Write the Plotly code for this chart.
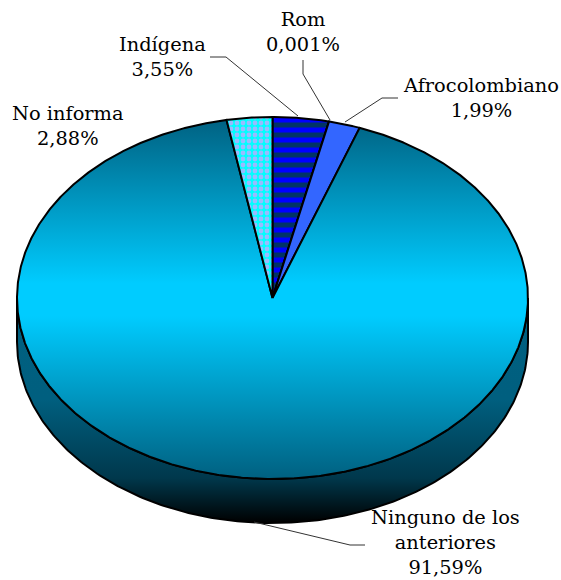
import numpy as np
import plotly.graph_objects as go

categories = ["Indígena", "Rom", "Afrocolombiano", "Ninguno de los anteriores", "No informa"]
values = [3.55, 0.001, 1.99, 91.59, 2.88]
value_labels = ["3,55%", "0,001%", "1,99%", "91,59%", "2,88%"]

# layout constants (pixels of the 561x580 frame)
CX, CY, RX, RY, DEPTH = 272.5, 298.0, 255.5, 181.0, 44.0
W, H = 561, 580
OUT = "#000000"


def rim(a0, a1, n=240, dy=0.0):
    t = np.radians(np.linspace(a0, a1, n))
    return CX + RX * np.sin(t), CY + dy - RY * np.cos(t)


fig = go.Figure()

# side wall: front half of the rim, extruded downward
xa, ya = rim(90, 270)
xb, yb = rim(270, 90, dy=DEPTH)
fig.add_trace(go.Scatter(
    x=np.r_[xa, xb, xa[0]], y=np.r_[ya, yb, ya[0]], mode="lines", fill="toself",
    line=dict(color=OUT, width=2),
    fillgradient=dict(type="vertical", start=CY, stop=CY + RY + DEPTH,
                      colorscale=[[0, "#006080"], [0.45, "#005F7F"], [0.8, "#00384C"], [1, "#000000"]]),
    hoverinfo="skip", showlegend=False))

styles = {
    "Indígena": dict(fillcolor="#0000FF", fillpattern=dict(shape="-", fgcolor="#003366", bgcolor="#0000FF", size=10, solidity=0.5, fillmode="replace")),
    "Rom": dict(fillcolor="#000080"),
    "Afrocolombiano": dict(fillcolor="#3366FF"),
    "Ninguno de los anteriores": dict(fillgradient=dict(type="vertical", start=CY - RY, stop=CY + RY,
        colorscale=[[0, "#006080"], [0.46, "#00CCFF"], [0.55, "#00CCFF"], [1, "#006080"]])),
    "No informa": dict(fillcolor="#00FFFF", fillpattern=dict(shape=".", fgcolor="#99BBFF", bgcolor="#00FFFF", size=6, solidity=0.5, fillmode="replace")),
}

total = sum(values)
angle = 0.0
for name, v in zip(categories, values):
    a1 = angle + 360.0 * v / total
    x, y = rim(angle, a1, n=max(2, int(a1 - angle) * 3))
    fig.add_trace(go.Scatter(
        x=np.r_[CX, x, CX], y=np.r_[CY, y, CY], mode="lines", fill="toself",
        line=dict(color=OUT, width=2), name=name, hoverinfo="skip", showlegend=False,
        **styles[name]))
    angle = a1

leaders = [
    ([210, 226, 298], [57, 57, 116]),
    ([303, 303, 330], [60, 74, 120]),
    ([398, 382, 345], [98, 98, 122]),
    ([365, 350, 254], [545, 545, 522]),
]
for lx, ly in leaders:
    fig.add_trace(go.Scatter(x=lx, y=ly, mode="lines", line=dict(color="#333333", width=1),
                             hoverinfo="skip", showlegend=False))

label_pos = {
    "Indígena": (162, 57),
    "Rom": (303, 32),
    "Afrocolombiano": (481, 98),
    "Ninguno de los anteriores": (445, 542),
    "No informa": (68, 126),
}
label_text = {"Ninguno de los anteriores": "Ninguno de los<br>anteriores"}
for name, vl in zip(categories, value_labels):
    px, py = label_pos[name]
    fig.add_annotation(x=px, y=py, xref="x", yref="y", showarrow=False, align="center",
                       text=f"{label_text.get(name, name)}<br>{vl}",
                       font=dict(family="DejaVu Serif", size=19.4, color="#000000"))

fig.update_layout(
    width=W, height=H, margin=dict(l=0, r=0, t=0, b=0),
    paper_bgcolor="white", plot_bgcolor="white",
    xaxis=dict(range=[0, W], visible=False, fixedrange=True),
    yaxis=dict(range=[H, 0], visible=False, fixedrange=True),
)
fig.write_html("out.html", config=dict(displayModeBar=False),
               post_script="document.body.style.margin='0';document.documentElement.style.overflow='hidden';")
